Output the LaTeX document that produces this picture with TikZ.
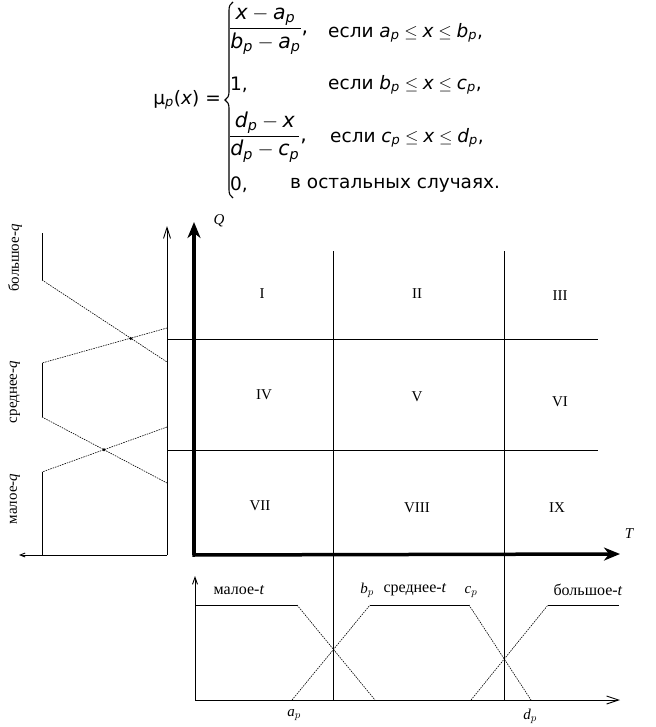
\documentclass[tikz,border=0pt]{standalone}
\usepackage{amsmath}
\usepackage{fontspec}
\setmainfont{Liberation Serif}
\newfontfamily\fsans{DejaVu Sans}
\usetikzlibrary{arrows.meta,decorations.pathreplacing}
\newcommand\vv[1]{\text{\fsans\itshape #1}}
\newcommand\ip[1]{\vv{#1}_{\vv{p}}}
\begin{document}
\begin{tikzpicture}[x=1pt,y=-1pt,
  fml/.style={font=\fsans\fontsize{18.5}{22}\selectfont, inner sep=0pt, anchor=west},
  frc/.style={font=\fsans\fontsize{20.5}{24}\selectfont, inner sep=0pt, anchor=west},
  lbl/.style={font=\fontsize{16}{18}\selectfont, inner sep=0pt},
  qlbl/.style={font=\fontsize{15}{17}\selectfont, inner sep=0pt, rotate=90},
  ilbl/.style={font=\fontsize{15}{17}\selectfont\itshape, inner sep=0pt},
  rom/.style={font=\fontsize{15}{17}\selectfont, inner sep=0pt},
  thin/.style={line width=0.9pt},
  dsh/.style={line width=0.6pt, dash pattern=on 1.5pt off 1pt},
  thick axis/.style={line width=3.5pt, -{Stealth[length=16pt,width=13pt,inset=5pt]}},
  barb/.style={thin, -{Straight Barb[length=11pt,width=7pt]}},
  dot/.style={circle, fill, inner sep=1.2pt}]
\useasboundingbox (0,0) rectangle (655,727);

% ---------- formula ----------
\node[fml, anchor=east] (mu) at (221,100) {μ$_{\vv{p}}$(\textit{x}) =};
\draw[line width=1.1pt, decorate, decoration={brace, amplitude=8pt}] (233,198) -- (233,2);
\node[frc] (f1) at (229,31) {$\dfrac{\vv{x} - \ip{a}}{\ip{b} - \ip{a}}$,};
\node[fml] (c1) at (328,33) {если $\ip{a} \le \vv{x} \le \ip{b}$,};
\node[fml] (f2) at (230,85) {1,};
\node[fml] (c2) at (328,85) {если $\ip{b} \le \vv{x} \le \ip{c}$,};
\node[frc] (f3) at (229,137) {$\dfrac{\ip{d} - \vv{x}}{\ip{d} - \ip{c}}$,};
\node[fml] (c3) at (330,138) {если $\ip{c} \le \vv{x} \le \ip{d}$,};
\node[fml] (f4) at (230,185) {0,};
\node[fml] (c4) at (290,185) {в остальных случаях.};

% ---------- main axes and grid ----------
\coordinate (O) at (194,555);
\coordinate (Qtop) at (194,222);
\coordinate (Tend) at (620,554);
\draw[thick axis] (O) -- (Qtop);
\draw[thick axis] ([xshift=-1.75pt]O) -- (Tend);
\node[ilbl] (Q) at (219,221) {Q};
\node[ilbl] (T) at (629,534) {T};

\coordinate (v1t) at (333,251); \coordinate (v1b) at (333,700);
\coordinate (v2t) at (504,251); \coordinate (v2b) at (504,700);
\coordinate (h1l) at (167,339); \coordinate (h1r) at (598,339);
\coordinate (h2l) at (167,450); \coordinate (h2r) at (598,450);
\draw[thin] (v1t) -- (v1b);
\draw[thin] (v2t) -- (v2b);
\draw[thin] (h1l) -- (h1r);
\draw[thin] (h2l) -- (h2r);

\node[rom] (r1) at (262,294) {I};
\node[rom] (r2) at (417,294) {II};
\node[rom] (r3) at (560,296) {III};
\node[rom] (r4) at (264,395) {IV};
\node[rom] (r5) at (417,397) {V};
\node[rom] (r6) at (560,402) {VI};
\node[rom] (r7) at (260,506) {VII};
\node[rom] (r8) at (417,508) {VIII};
\node[rom] (r9) at (557,508) {IX};

% ---------- left chart (q) ----------
\coordinate (L0) at (167,555);
\draw[barb] (L0) -- (167,226);
\draw[thin, -{Straight Barb[length=5pt,width=4pt]}] (L0) -- (19,555);
% большое-q
\draw[thin] (42,233) -- (42,280);
\draw[dsh] (42,280) -- (167,362);
% среднее-q
\draw[dsh] (167,328) -- (42,363);
\draw[thin] (42,363) -- (42,417);
\draw[dsh] (42,417) -- (167,483);
% малое-q
\draw[dsh] (167,427) -- (42,472);
\draw[thin] (42,472) -- (42,555);
\node[dot] (x1) at (130.7,338.5) {};
\node[dot] (x2) at (104,449.7) {};
\node[qlbl] (bq) at (15,258) {большое-\textit{q}};
\node[qlbl] (sq) at (15,392) {среднее-\textit{q}};
\node[qlbl] (mq) at (15,499) {малое-\textit{q}};

% ---------- bottom chart (t) ----------
\coordinate (B0) at (195,700);
\draw[thin, -{Straight Barb[length=7pt,width=5pt]}] (B0) -- (195,576);
\draw[thin, -{Straight Barb[length=12pt,width=8pt]}] (B0) -- (620,700);
% малое-t
\draw[thin] (195,605) -- (297,605);
\draw[dsh] (297,605) -- (375,700);
% среднее-t
\draw[dsh] (292,700) -- (370,605);
\draw[thin] (370,605) -- (469,605);
\draw[dsh] (469,605) -- (531,700);
% большое-t
\draw[dsh] (471,700) -- (548,605);
\draw[thin] (548,605) -- (619,605);
\node[lbl] (mt) at (239,590) {малое-\textit{t}};
\node[lbl] (st) at (415,590) {среднее-\textit{t}};
\node[lbl] (bt) at (588,590) {большое-\textit{t}};
\node[ilbl] (bp) at (367,590) {b$_p$};
\node[ilbl] (cp) at (471,592) {c$_p$};
\node[ilbl] (ap) at (294,715) {a$_p$};
\node[ilbl] (dp) at (530,716) {d$_p$};
\end{tikzpicture}
\end{document}
